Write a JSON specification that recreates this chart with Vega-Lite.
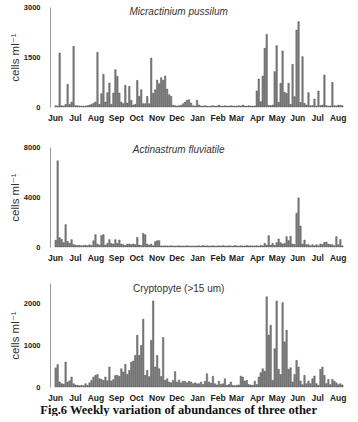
{
  "$schema": "https://vega.github.io/schema/vega-lite/v6.json",
  "padding": {"left": 9, "top": 3, "right": 5, "bottom": 0},
  "background": "white",
  "title": {
    "text": "Fig.6 Weekly variation of abundances of three other",
    "orient": "bottom",
    "anchor": "middle",
    "frame": "bounds",
    "offset": 2,
    "font": "Liberation Serif",
    "fontSize": 12.5,
    "fontWeight": "bold",
    "color": "#111",
    "baseline": "top"
  },
  "datasets": {
    "samples": [
      {"date": "2000-06-02", "micractinium": 40, "actinastrum": 540, "cryptophyte": 460},
      {"date": "2000-06-05", "micractinium": 30, "actinastrum": 6900, "cryptophyte": 540},
      {"date": "2000-06-08", "micractinium": 1620, "actinastrum": 750, "cryptophyte": 120},
      {"date": "2000-06-11", "micractinium": 40, "actinastrum": 620, "cryptophyte": 80},
      {"date": "2000-06-14", "micractinium": 30, "actinastrum": 350, "cryptophyte": 70},
      {"date": "2000-06-17", "micractinium": 80, "actinastrum": 1790, "cryptophyte": 600},
      {"date": "2000-06-20", "micractinium": 680, "actinastrum": 450, "cryptophyte": 120},
      {"date": "2000-06-23", "micractinium": 80, "actinastrum": 300, "cryptophyte": 150},
      {"date": "2000-06-26", "micractinium": 150, "actinastrum": 590, "cryptophyte": 240},
      {"date": "2000-06-29", "micractinium": 1820, "actinastrum": 200, "cryptophyte": 80},
      {"date": "2000-07-02", "micractinium": 40, "actinastrum": 150, "cryptophyte": 50},
      {"date": "2000-07-05", "micractinium": 40, "actinastrum": 120, "cryptophyte": 40},
      {"date": "2000-07-08", "micractinium": 30, "actinastrum": 140, "cryptophyte": 30},
      {"date": "2000-07-11", "micractinium": 30, "actinastrum": 100, "cryptophyte": 40},
      {"date": "2000-07-14", "micractinium": 30, "actinastrum": 120, "cryptophyte": 30},
      {"date": "2000-07-17", "micractinium": 30, "actinastrum": 150, "cryptophyte": 80},
      {"date": "2000-07-20", "micractinium": 40, "actinastrum": 100, "cryptophyte": 40},
      {"date": "2000-07-23", "micractinium": 60, "actinastrum": 180, "cryptophyte": 100},
      {"date": "2000-07-26", "micractinium": 80, "actinastrum": 120, "cryptophyte": 160},
      {"date": "2000-07-29", "micractinium": 110, "actinastrum": 500, "cryptophyte": 240},
      {"date": "2000-08-01", "micractinium": 150, "actinastrum": 990, "cryptophyte": 280},
      {"date": "2000-08-04", "micractinium": 1640, "actinastrum": 240, "cryptophyte": 300},
      {"date": "2000-08-07", "micractinium": 80, "actinastrum": 150, "cryptophyte": 200},
      {"date": "2000-08-10", "micractinium": 400, "actinastrum": 930, "cryptophyte": 185},
      {"date": "2000-08-13", "micractinium": 980, "actinastrum": 990, "cryptophyte": 160},
      {"date": "2000-08-16", "micractinium": 150, "actinastrum": 160, "cryptophyte": 240},
      {"date": "2000-08-19", "micractinium": 430, "actinastrum": 290, "cryptophyte": 150},
      {"date": "2000-08-22", "micractinium": 720, "actinastrum": 590, "cryptophyte": 480},
      {"date": "2000-08-25", "micractinium": 80, "actinastrum": 290, "cryptophyte": 145},
      {"date": "2000-08-28", "micractinium": 420, "actinastrum": 240, "cryptophyte": 180},
      {"date": "2000-08-31", "micractinium": 1120, "actinastrum": 590, "cryptophyte": 280},
      {"date": "2000-09-03", "micractinium": 920, "actinastrum": 290, "cryptophyte": 280},
      {"date": "2000-09-06", "micractinium": 420, "actinastrum": 560, "cryptophyte": 255},
      {"date": "2000-09-09", "micractinium": 150, "actinastrum": 240, "cryptophyte": 440},
      {"date": "2000-09-12", "micractinium": 100, "actinastrum": 190, "cryptophyte": 360},
      {"date": "2000-09-15", "micractinium": 650, "actinastrum": 120, "cryptophyte": 545},
      {"date": "2000-09-18", "micractinium": 120, "actinastrum": 240, "cryptophyte": 305},
      {"date": "2000-09-21", "micractinium": 620, "actinastrum": 240, "cryptophyte": 400},
      {"date": "2000-09-24", "micractinium": 200, "actinastrum": 190, "cryptophyte": 600},
      {"date": "2000-09-27", "micractinium": 60, "actinastrum": 240, "cryptophyte": 625},
      {"date": "2000-09-30", "micractinium": 80, "actinastrum": 190, "cryptophyte": 760},
      {"date": "2000-10-03", "micractinium": 800, "actinastrum": 770, "cryptophyte": 1245},
      {"date": "2000-10-06", "micractinium": 320, "actinastrum": 160, "cryptophyte": 760},
      {"date": "2000-10-09", "micractinium": 520, "actinastrum": 120, "cryptophyte": 1000},
      {"date": "2000-10-12", "micractinium": 100, "actinastrum": 1090, "cryptophyte": 1630},
      {"date": "2000-10-15", "micractinium": 100, "actinastrum": 990, "cryptophyte": 280},
      {"date": "2000-10-18", "micractinium": 320, "actinastrum": 240, "cryptophyte": 400},
      {"date": "2000-10-21", "micractinium": 100, "actinastrum": 160, "cryptophyte": 250},
      {"date": "2000-10-24", "micractinium": 1470, "actinastrum": 240, "cryptophyte": 1120},
      {"date": "2000-10-27", "micractinium": 410, "actinastrum": 100, "cryptophyte": 2070},
      {"date": "2000-10-30", "micractinium": 520, "actinastrum": 430, "cryptophyte": 480},
      {"date": "2000-11-02", "micractinium": 810, "actinastrum": 510, "cryptophyte": 760},
      {"date": "2000-11-05", "micractinium": 700, "actinastrum": 510, "cryptophyte": 440},
      {"date": "2000-11-08", "micractinium": 880, "actinastrum": 90, "cryptophyte": 250},
      {"date": "2000-11-11", "micractinium": 800, "actinastrum": 80, "cryptophyte": 1190},
      {"date": "2000-11-14", "micractinium": 930, "actinastrum": 100, "cryptophyte": 160},
      {"date": "2000-11-17", "micractinium": 540, "actinastrum": 90, "cryptophyte": 200},
      {"date": "2000-11-20", "micractinium": 370, "actinastrum": 80, "cryptophyte": 120},
      {"date": "2000-11-23", "micractinium": 320, "actinastrum": 100, "cryptophyte": 100},
      {"date": "2000-11-26", "micractinium": 50, "actinastrum": 90, "cryptophyte": 160},
      {"date": "2000-11-29", "micractinium": 40, "actinastrum": 80, "cryptophyte": 370},
      {"date": "2000-12-02", "micractinium": 30, "actinastrum": 90, "cryptophyte": 120},
      {"date": "2000-12-05", "micractinium": 40, "actinastrum": 100, "cryptophyte": 170},
      {"date": "2000-12-08", "micractinium": 50, "actinastrum": 80, "cryptophyte": 100},
      {"date": "2000-12-11", "micractinium": 100, "actinastrum": 90, "cryptophyte": 140},
      {"date": "2000-12-14", "micractinium": 150, "actinastrum": 80, "cryptophyte": 140},
      {"date": "2000-12-17", "micractinium": 200, "actinastrum": 100, "cryptophyte": 100},
      {"date": "2000-12-20", "micractinium": 220, "actinastrum": 90, "cryptophyte": 140},
      {"date": "2000-12-23", "micractinium": 120, "actinastrum": 80, "cryptophyte": 120},
      {"date": "2000-12-26", "micractinium": 40, "actinastrum": 90, "cryptophyte": 80},
      {"date": "2000-12-29", "micractinium": 30, "actinastrum": 80, "cryptophyte": 100},
      {"date": "2001-01-01", "micractinium": 200, "actinastrum": 90, "cryptophyte": 80},
      {"date": "2001-01-04", "micractinium": 60, "actinastrum": 100, "cryptophyte": 80},
      {"date": "2001-01-07", "micractinium": 30, "actinastrum": 80, "cryptophyte": 120},
      {"date": "2001-01-10", "micractinium": 30, "actinastrum": 120, "cryptophyte": 60},
      {"date": "2001-01-13", "micractinium": 40, "actinastrum": 90, "cryptophyte": 140},
      {"date": "2001-01-16", "micractinium": 30, "actinastrum": 100, "cryptophyte": 320},
      {"date": "2001-01-19", "micractinium": 20, "actinastrum": 80, "cryptophyte": 120},
      {"date": "2001-01-22", "micractinium": 30, "actinastrum": 90, "cryptophyte": 90},
      {"date": "2001-01-25", "micractinium": 40, "actinastrum": 100, "cryptophyte": 260},
      {"date": "2001-01-28", "micractinium": 30, "actinastrum": 80, "cryptophyte": 80},
      {"date": "2001-01-31", "micractinium": 30, "actinastrum": 90, "cryptophyte": 50},
      {"date": "2001-02-03", "micractinium": 60, "actinastrum": 100, "cryptophyte": 140},
      {"date": "2001-02-06", "micractinium": 30, "actinastrum": 80, "cryptophyte": 60},
      {"date": "2001-02-09", "micractinium": 30, "actinastrum": 120, "cryptophyte": 80},
      {"date": "2001-02-12", "micractinium": 40, "actinastrum": 90, "cryptophyte": 200},
      {"date": "2001-02-15", "micractinium": 30, "actinastrum": 80, "cryptophyte": 40},
      {"date": "2001-02-18", "micractinium": 30, "actinastrum": 100, "cryptophyte": 60},
      {"date": "2001-02-21", "micractinium": 40, "actinastrum": 90, "cryptophyte": 120},
      {"date": "2001-02-24", "micractinium": 30, "actinastrum": 80, "cryptophyte": 40},
      {"date": "2001-02-27", "micractinium": 30, "actinastrum": 120, "cryptophyte": 30},
      {"date": "2001-03-02", "micractinium": 30, "actinastrum": 90, "cryptophyte": 40},
      {"date": "2001-03-05", "micractinium": 40, "actinastrum": 80, "cryptophyte": 50},
      {"date": "2001-03-08", "micractinium": 30, "actinastrum": 100, "cryptophyte": 260},
      {"date": "2001-03-11", "micractinium": 60, "actinastrum": 90, "cryptophyte": 240},
      {"date": "2001-03-14", "micractinium": 30, "actinastrum": 80, "cryptophyte": 145},
      {"date": "2001-03-17", "micractinium": 30, "actinastrum": 120, "cryptophyte": 160},
      {"date": "2001-03-20", "micractinium": 40, "actinastrum": 90, "cryptophyte": 60},
      {"date": "2001-03-23", "micractinium": 30, "actinastrum": 100, "cryptophyte": 50},
      {"date": "2001-03-26", "micractinium": 30, "actinastrum": 80, "cryptophyte": 40},
      {"date": "2001-03-29", "micractinium": 30, "actinastrum": 90, "cryptophyte": 140},
      {"date": "2001-04-01", "micractinium": 480, "actinastrum": 100, "cryptophyte": 60},
      {"date": "2001-04-04", "micractinium": 840, "actinastrum": 80, "cryptophyte": 240},
      {"date": "2001-04-07", "micractinium": 160, "actinastrum": 120, "cryptophyte": 345},
      {"date": "2001-04-10", "micractinium": 930, "actinastrum": 100, "cryptophyte": 440},
      {"date": "2001-04-13", "micractinium": 1760, "actinastrum": 290, "cryptophyte": 380},
      {"date": "2001-04-16", "micractinium": 2180, "actinastrum": 150, "cryptophyte": 2170},
      {"date": "2001-04-19", "micractinium": 50, "actinastrum": 910, "cryptophyte": 1245},
      {"date": "2001-04-22", "micractinium": 40, "actinastrum": 150, "cryptophyte": 1485},
      {"date": "2001-04-25", "micractinium": 60, "actinastrum": 290, "cryptophyte": 160},
      {"date": "2001-04-28", "micractinium": 1060, "actinastrum": 120, "cryptophyte": 920},
      {"date": "2001-05-01", "micractinium": 1840, "actinastrum": 350, "cryptophyte": 2065},
      {"date": "2001-05-04", "micractinium": 140, "actinastrum": 640, "cryptophyte": 425},
      {"date": "2001-05-07", "micractinium": 710, "actinastrum": 350, "cryptophyte": 300},
      {"date": "2001-05-10", "micractinium": 1680, "actinastrum": 240, "cryptophyte": 2030},
      {"date": "2001-05-13", "micractinium": 440, "actinastrum": 290, "cryptophyte": 1085},
      {"date": "2001-05-16", "micractinium": 410, "actinastrum": 830, "cryptophyte": 1365},
      {"date": "2001-05-19", "micractinium": 710, "actinastrum": 510, "cryptophyte": 425},
      {"date": "2001-05-22", "micractinium": 80, "actinastrum": 850, "cryptophyte": 465},
      {"date": "2001-05-25", "micractinium": 1280, "actinastrum": 240, "cryptophyte": 120},
      {"date": "2001-05-28", "micractinium": 310, "actinastrum": 200, "cryptophyte": 300},
      {"date": "2001-05-31", "micractinium": 2310, "actinastrum": 2700, "cryptophyte": 640},
      {"date": "2001-06-03", "micractinium": 2560, "actinastrum": 3930, "cryptophyte": 480},
      {"date": "2001-06-06", "micractinium": 140, "actinastrum": 1680, "cryptophyte": 145},
      {"date": "2001-06-09", "micractinium": 1510, "actinastrum": 240, "cryptophyte": 56},
      {"date": "2001-06-12", "micractinium": 110, "actinastrum": 560, "cryptophyte": 280},
      {"date": "2001-06-15", "micractinium": 60, "actinastrum": 190, "cryptophyte": 80},
      {"date": "2001-06-18", "micractinium": 430, "actinastrum": 190, "cryptophyte": 145},
      {"date": "2001-06-21", "micractinium": 40, "actinastrum": 100, "cryptophyte": 80},
      {"date": "2001-06-24", "micractinium": 40, "actinastrum": 190, "cryptophyte": 200},
      {"date": "2001-06-27", "micractinium": 240, "actinastrum": 100, "cryptophyte": 265},
      {"date": "2001-06-30", "micractinium": 30, "actinastrum": 190, "cryptophyte": 80},
      {"date": "2001-07-03", "micractinium": 480, "actinastrum": 100, "cryptophyte": 40},
      {"date": "2001-07-06", "micractinium": 40, "actinastrum": 240, "cryptophyte": 425},
      {"date": "2001-07-09", "micractinium": 60, "actinastrum": 200, "cryptophyte": 480},
      {"date": "2001-07-12", "micractinium": 960, "actinastrum": 370, "cryptophyte": 280},
      {"date": "2001-07-15", "micractinium": 40, "actinastrum": 400, "cryptophyte": 80},
      {"date": "2001-07-18", "micractinium": 30, "actinastrum": 240, "cryptophyte": 185},
      {"date": "2001-07-21", "micractinium": 30, "actinastrum": 190, "cryptophyte": 56},
      {"date": "2001-07-24", "micractinium": 740, "actinastrum": 190, "cryptophyte": 185},
      {"date": "2001-07-27", "micractinium": 40, "actinastrum": 100, "cryptophyte": 140},
      {"date": "2001-07-30", "micractinium": 30, "actinastrum": 830, "cryptophyte": 100},
      {"date": "2001-08-02", "micractinium": 60, "actinastrum": 190, "cryptophyte": 56},
      {"date": "2001-08-05", "micractinium": 50, "actinastrum": 610, "cryptophyte": 80},
      {"date": "2001-08-08", "micractinium": 40, "actinastrum": 100, "cryptophyte": 50}
    ]
  },
  "vconcat": [
    {
      "data": {"name": "samples"},
      "width": 298,
      "height": 100,
      "title": {"text": "Micractinium pussilum", "fontStyle": "italic", "offset": -14},
      "mark": {"type": "bar", "size": 1.5, "fill": "#858585", "stroke": "#2a2a2a", "strokeWidth": 0.35},
      "encoding": {
        "x": {
          "field": "date", "type": "temporal", "title": null,
          "scale": {"domain": [{"year": 2000, "month": 6, "date": 1}, {"year": 2001, "month": 8, "date": 9}]}
        },
        "y": {
          "field": "micractinium", "type": "quantitative", "title": "cells ml⁻¹",
          "scale": {"domain": [0, 3000]},
          "axis": {"values": [0, 1500, 3000]}
        }
      }
    },
    {
      "data": {"name": "samples"},
      "width": 298,
      "height": 100,
      "title": {"text": "Actinastrum fluviatile", "fontStyle": "italic", "offset": -12},
      "mark": {"type": "bar", "size": 1.5, "fill": "#858585", "stroke": "#2a2a2a", "strokeWidth": 0.35},
      "encoding": {
        "x": {
          "field": "date", "type": "temporal", "title": null,
          "scale": {"domain": [{"year": 2000, "month": 6, "date": 1}, {"year": 2001, "month": 8, "date": 9}]}
        },
        "y": {
          "field": "actinastrum", "type": "quantitative", "title": "cells ml⁻¹",
          "scale": {"domain": [0, 8000]},
          "axis": {"values": [0, 4000, 8000]}
        }
      }
    },
    {
      "data": {"name": "samples"},
      "width": 298,
      "height": 104,
      "title": {"text": "Cryptopyte (>15 um)", "fontStyle": "normal", "offset": -11},
      "mark": {"type": "bar", "size": 1.5, "fill": "#858585", "stroke": "#2a2a2a", "strokeWidth": 0.35},
      "encoding": {
        "x": {
          "field": "date", "type": "temporal", "title": null,
          "scale": {"domain": [{"year": 2000, "month": 6, "date": 1}, {"year": 2001, "month": 8, "date": 9}]}
        },
        "y": {
          "field": "cryptophyte", "type": "quantitative", "title": "cells ml⁻¹",
          "scale": {"domain": [0, 2500]},
          "axis": {"values": [0, 1000, 2000]}
        }
      }
    }
  ],
  "spacing": 21,
  "config": {
    "view": {"stroke": null},
    "title": {
      "font": "Liberation Sans",
      "fontSize": 10,
      "fontWeight": "normal",
      "color": "#333333",
      "anchor": "middle",
      "frame": "bounds",
      "baseline": "bottom"
    },
    "axis": {
      "grid": false,
      "ticks": false,
      "labelFont": "Liberation Sans",
      "labelFontWeight": "bold",
      "labelColor": "#222222",
      "titleFont": "Liberation Sans, DejaVu Sans",
      "titleFontWeight": "normal",
      "titleFontSize": 11.5,
      "titleColor": "#333333",
      "domainColor": "#9a9a9a",
      "domainWidth": 1
    },
    "axisX": {
      "domain": false,
      "format": "%b",
      "tickCount": {"interval": "month", "step": 1},
      "labelFontSize": 8.5,
      "labelPadding": 6,
      "labelOverlap": false,
      "labelFlush": false
    },
    "axisY": {
      "format": "d",
      "labelFontSize": 7.5,
      "labelPadding": 10,
      "titlePadding": 3
    }
  }
}
